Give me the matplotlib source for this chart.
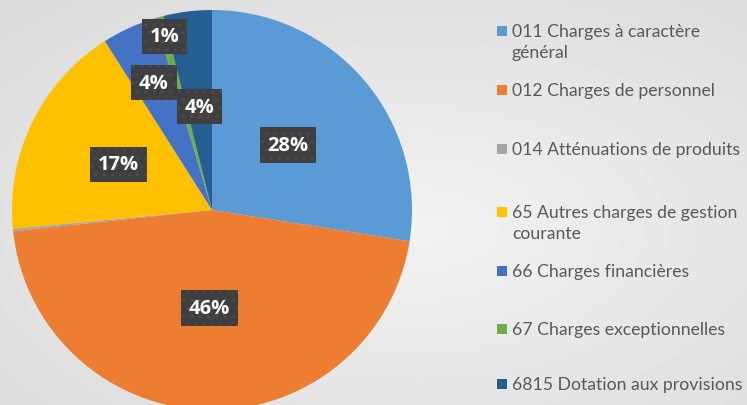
import numpy as np
import matplotlib.pyplot as plt
import matplotlib.patches as mpatches

# données (en %)
labels = ['011 Charges à caractère\ngénéral', '012 Charges de personnel',
          '014 Atténuations de produits', '65 Autres charges de gestion\ncourante',
          '66 Charges financières', '67 Charges exceptionnelles',
          '6815 Dotation aux provisions']
values = [27.5, 45.8, 0.2, 17.5, 4.4, 0.7, 3.9]
shown = ['28%', '46%', '', '17%', '4%', '1%', '4%']
colors = ['#5B9BD5', '#ED7D31', '#A5A5A5', '#FFC000', '#4472C4', '#70AD47', '#255E91']
label_dist = [0.5, 0.49, 0.5, 0.52, 0.7, 0.9, 0.52]

W, H = 747, 406
fig = plt.figure(figsize=(W / 100, H / 100), dpi=100)

# fond gris dégradé
bg = fig.add_axes([0, 0, 1, 1])
yy, xx = np.mgrid[0:H, 0:W]
d = np.sqrt(((xx - 420) / W) ** 2 + ((yy - 230) / H) ** 2)
bg.imshow(0.95 - 0.12 * d, cmap='gray', vmin=0, vmax=1, aspect='auto')
bg.axis('off')

ax = fig.add_axes([12 / W, -5 / H, 400 / W, 400 / H])
wedges, _ = ax.pie(values, colors=colors, startangle=90, counterclock=False,
                   radius=1, wedgeprops=dict(linewidth=0))
ax.set_xlim(-1, 1)
ax.set_ylim(-1, 1)

for w, txt, r in zip(wedges, shown, label_dist):
    if not txt:
        continue
    ang = np.deg2rad((w.theta1 + w.theta2) / 2)
    ax.text(r * np.cos(ang), r * np.sin(ang), txt, ha='center', va='center',
            color='white', fontsize=14.5, fontweight='bold', family='Open Sans',
            bbox=dict(boxstyle='square,pad=0.38', facecolor='#3f3f3f',
                      edgecolor='#4d4d4d', hatch='..', linewidth=0))

# légende
leg_y = [32, 91, 150, 213, 272, 330, 385]
for lab, c, y in zip(labels, colors, leg_y):
    fig.patches.append(mpatches.Rectangle((497 / W, 1 - (y + 5) / H), 10 / W, 10 / H,
                                          facecolor=c, transform=fig.transFigure))
    for i, line in enumerate(lab.split('\n')):
        fig.text(512 / W, 1 - (y + 21 * i) / H, line, ha='left', va='center',
                 fontsize=12.7, family='Lato', color='#595959')

plt.savefig('out.png', dpi=100)
